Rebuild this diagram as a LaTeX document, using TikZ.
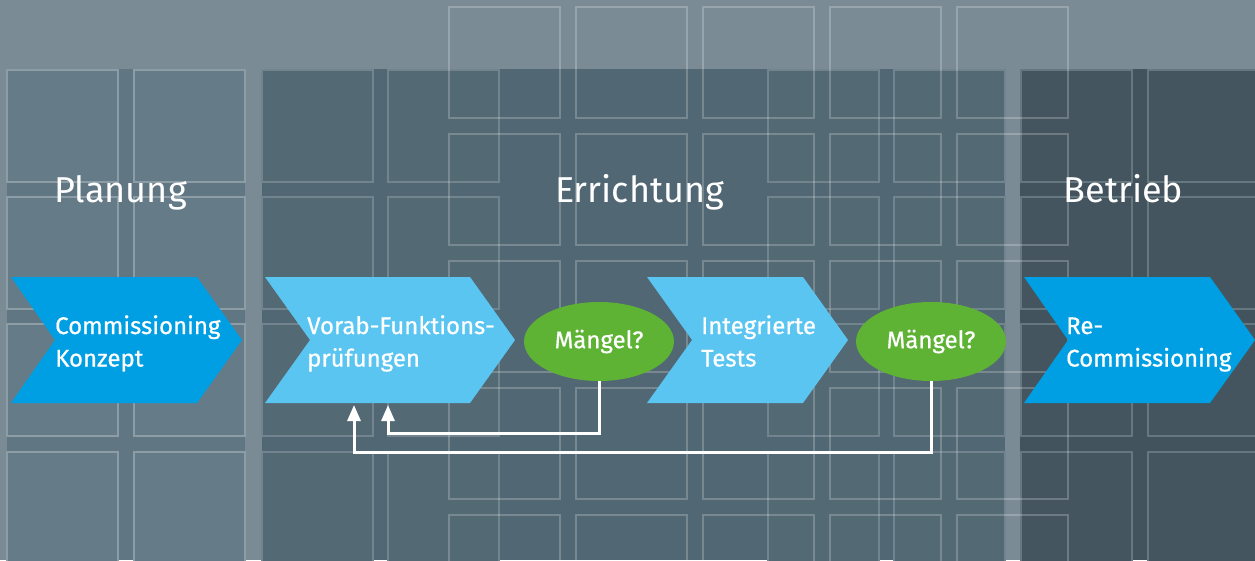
\documentclass[tikz,border=0pt]{standalone}
\usepackage{fontspec}
\setmainfont{Fira Sans}
\newfontfamily\medfont{Fira Sans}[FakeBold=0.7]
\usetikzlibrary{arrows.meta,shapes.geometric,calc}
\definecolor{band}{HTML}{7A8B95}
\definecolor{pone}{HTML}{617683}
\definecolor{ponesq}{HTML}{657B88}
\definecolor{ponel}{HTML}{8C9DA6}
\definecolor{ptwo}{HTML}{516773}
\definecolor{ptwosq}{HTML}{536974}
\definecolor{ptwol}{HTML}{72858E}
\definecolor{pthree}{HTML}{42535D}
\definecolor{pthreesq}{HTML}{44555F}
\definecolor{pthreel}{HTML}{66787F}
\definecolor{cdark}{HTML}{009FE3}
\definecolor{clight}{HTML}{5BC5F2}
\definecolor{cgreen}{HTML}{5EB234}
\begin{document}
\begin{tikzpicture}[x=1pt,y=-1pt,
  sqone/.style={fill=ponesq,draw=ponel,line width=1.2pt},
  sqtwo/.style={fill=ptwosq,draw=ptwol,line width=1.2pt},
  sqthree/.style={fill=pthreesq,draw=pthreel,line width=1.2pt},
  overlay/.style={draw=white,draw opacity=0.22,line width=1.3pt},
  title/.style={text=white,font=\fontsize{36}{40}\selectfont,anchor=base,inner sep=0pt},
  chevtext/.style={text=white,font=\medfont\fontsize{24}{32.5}\selectfont,anchor=base west,inner sep=0pt},
  decision/.style={ellipse,fill=cgreen,text=white,minimum width=150pt,minimum height=79pt,inner sep=0pt,font=\medfont\fontsize{24}{28}\selectfont},
  arr/.style={draw=white,line width=3pt,-{Triangle[length=16pt,width=13pt]}}]
\useasboundingbox (0,0) rectangle (1255,560);
\clip (0,0) rectangle (1255,560);
% background
\fill[band] (0,0) rectangle (1255,560);
\fill[pone] (7,69) rectangle (245,560);
\fill[ptwo] (262,69) rectangle (1005,560);
\fill[pthree] (1020,69) rectangle (1255,560);
\foreach \x in {7,134} \foreach \y in {70,197,324,452}
  \draw[sqone] (\x,\y) rectangle ++(111,112);
\foreach \x in {262,388,768,894} \foreach \y in {70,197,324,452}
  \draw[sqtwo] (\x,\y) rectangle ++(111,112);
\foreach \x in {1021,1148} \foreach \y in {70,197,324,452}
  \draw[sqthree] (\x,\y) rectangle ++(111,112);
\foreach \x in {449,576,703,830,957} \foreach \y in {7,134,261,388,515}
  \draw[overlay] (\x,\y) rectangle ++(111,111);
% titles
\node[title] (tplan) at (120.5,202.5) {Planung};
\node[title] (terr) at (639.5,202.5) {Errichtung};
\node[title] (tbet) at (1123.5,202.5) {Betrieb};
% chevrons
\fill[cdark] (11,277) -- (197,277) -- (242,340) -- (197,403) -- (11,403) -- (55,340) -- cycle;
\fill[clight] (265,277) -- (470,277) -- (515,340) -- (470,403) -- (265,403) -- (310,340) -- cycle;
\fill[clight] (647,277) -- (803,277) -- (848,340) -- (803,403) -- (647,403) -- (692,340) -- cycle;
\fill[cdark] (1024,277) -- (1210,277) -- (1255,340) -- (1210,403) -- (1024,403) -- (1068,340) -- cycle;
\node[chevtext] (c1) at (55,334) {\begin{tabular}[t]{@{}l@{}}Commissioning\\Konzept\end{tabular}};
\node[chevtext] (c2) at (307,334) {\begin{tabular}[t]{@{}l@{}}Vorab-Funktions-\\prüfungen\end{tabular}};
\node[chevtext] (c3) at (701,334) {\begin{tabular}[t]{@{}l@{}}Integrierte\\Tests\end{tabular}};
\node[chevtext] (c4) at (1066,334) {\begin{tabular}[t]{@{}l@{}}Re-\\Commissioning\end{tabular}};
% decisions
\node[decision] (m1) at (599,341.5) {Mängel?};
\node[decision] (m2) at (931,341.5) {Mängel?};
% feedback arrows
\coordinate (t1) at (388,405);
\coordinate (t2) at (354,405);
\draw[arr] (m1.south) -- ++(0,52) -| (t1);
\draw[arr] (m2.south) -- ++(0,71) -| (t2);
\end{tikzpicture}
\end{document}
